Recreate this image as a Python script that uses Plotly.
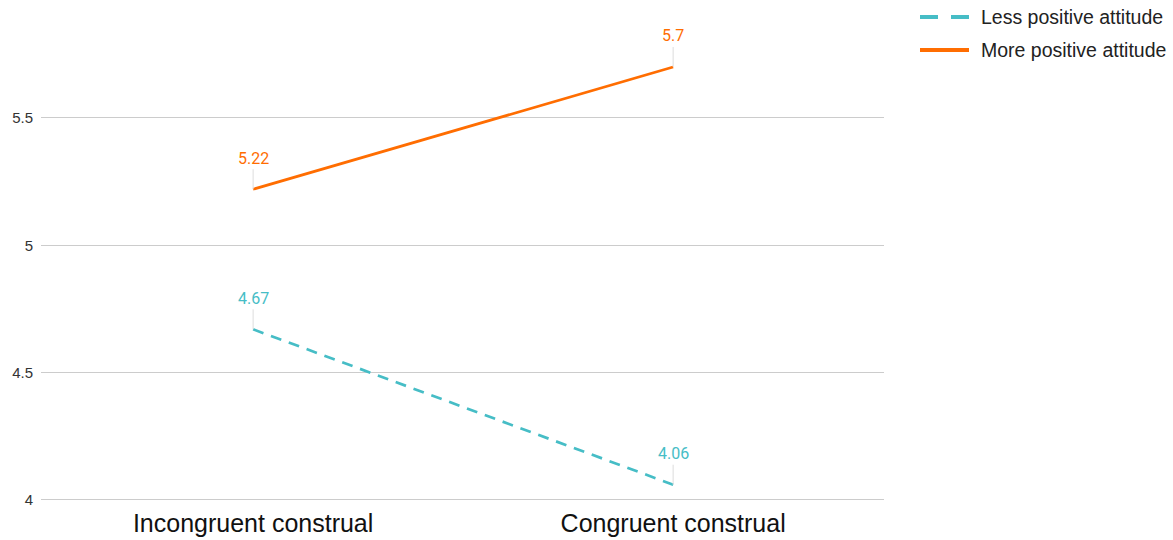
import plotly.graph_objects as go

# Category positions and mean scores per attitude group
categories = ["Incongruent construal", "Congruent construal"]
less_positive = [4.67, 4.06]
more_positive = [5.22, 5.7]

series_names = ["Less positive attitude", "More positive attitude"]
colors = ["#46bdc6", "#ff6d01"]
dashes = ["11px,8px", "solid"]
legend_dashes = ["18px,13px", "solid"]
y_ticks = [4, 4.5, 5, 5.5]

x_pos = list(range(len(categories)))

# Plot area in pixels (used to place the hand-made legend)
W, H = 1173, 540
L, R, T, B = 41, 289, 20, 39
plot_w, plot_h = W - L - R, H - T - B


def px_x(p):
    return (p - L) / plot_w


def px_y(p):
    return (H - B - p) / plot_h


fig = go.Figure()
for name, values, color, dash in zip(series_names, [less_positive, more_positive], colors, dashes):
    fig.add_trace(go.Scatter(
        x=x_pos, y=values, mode="lines", name=name, showlegend=False,
        line=dict(color=color, width=2.7, dash=dash),
    ))

# Value labels with short leader lines
annotations = []
for values, color in [(less_positive, colors[0]), (more_positive, colors[1])]:
    for xi, v in zip(x_pos, values):
        annotations.append(dict(
            x=xi, y=v, xref="x", yref="y", text=f"{v:g}",
            showarrow=True, arrowhead=0, arrowwidth=1, arrowcolor="#dddddd",
            ax=0, ay=-31, standoff=0,
            font=dict(family="Roboto, Arial, sans-serif", size=16, color=color),
        ))

# Legend drawn as line samples plus text
shapes = []
for i, (name, color, dash) in enumerate(zip(series_names, colors, legend_dashes)):
    yc = 17 + 33 * i
    shapes.append(dict(
        type="line", xref="paper", yref="paper",
        x0=px_x(920), x1=px_x(969), y0=px_y(yc), y1=px_y(yc),
        line=dict(color=color, width=4, dash=dash),
    ))
    annotations.append(dict(
        x=px_x(979), y=px_y(yc), xref="paper", yref="paper",
        xanchor="left", yanchor="middle", showarrow=False, text=name,
        font=dict(family="Liberation Sans, Arial, sans-serif", size=19.5, color="#222222"),
    ))

fig.update_layout(
    width=W, height=H,
    margin=dict(l=L, r=R, t=T, b=B, autoexpand=False),
    paper_bgcolor="white", plot_bgcolor="white",
    font=dict(family="Liberation Sans, Arial, sans-serif", color="#222222"),
    showlegend=False,
    xaxis=dict(
        tickmode="array", tickvals=x_pos, ticktext=categories,
        range=[-0.505, 1.502], showgrid=False, zeroline=False, showline=False,
        ticklabelstandoff=5,
        tickfont=dict(size=25, color="#111111"),
    ),
    yaxis=dict(
        tickmode="array", tickvals=y_ticks, ticktext=[f"{t:g}" for t in y_ticks],
        range=[3.996, 5.8845], showgrid=True, gridcolor="#cccccc", gridwidth=1,
        zeroline=False, showline=False, ticklabelstandoff=7,
        tickfont=dict(size=15, color="#333333"),
    ),
    shapes=shapes,
    annotations=annotations,
)

fig.write_html("out.html")
